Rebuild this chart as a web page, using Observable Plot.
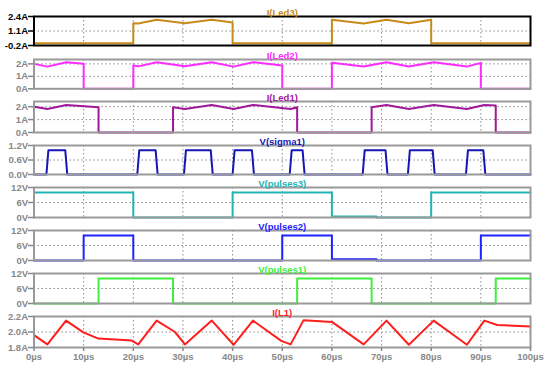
<!DOCTYPE html>
<html><head><meta charset="utf-8">
<script src="https://cdn.jsdelivr.net/npm/d3@7"></script>
<script src="https://cdn.jsdelivr.net/npm/@observablehq/plot@0.6"></script>
<style>
html,body{margin:0;padding:0;background:#fff;}
#chart{position:relative;width:550px;height:372px;overflow:hidden;font-family:"Liberation Sans",Arial,sans-serif;}
#chart svg{position:absolute;left:0;background:transparent;}
</style></head><body><div id="chart"></div>
<script>
// time axis (µs)
const xTicks = [0,10,20,30,40,50,60,70,80,90,100];
const xGrid = [10,20,30,40,50,60,70,80,90];

// I(Led3)
const led3T = [0,0,20,20,21,24.7,30.4,35.8,40,40,60,60,66.4,71.0,75.5,80,80,100];
const led3I = [2.2,0,0,1.8,1.78,2.1,1.79,2.1,1.86,0,0,2.1,1.77,2.1,1.79,2.1,0,0];
// I(Led2)
const led2T = [0,2.7,6.5,10,10,20,20,21,24.7,30.4,35.8,40.2,44.1,50,50,60,60,66.4,71.0,75.5,80.5,87.2,90,90,100];
const led2I = [2.0,1.78,2.13,2.0,0,0,1.86,1.8,2.13,1.8,2.13,1.78,2.13,1.86,0,0,2.08,1.78,2.13,1.78,2.13,1.78,2.08,0,0];
// I(Led1)
const led1T = [0,2.7,6.5,13,13,28,28,30.4,35.8,40.2,44.1,49.8,51.7,53,53,68,68,71.0,75.5,80.5,87.2,90.7,93,93,100];
const led1I = [2.0,1.82,2.13,1.95,0,0,1.95,1.82,2.13,1.82,2.13,1.9,1.82,1.95,0,0,1.95,2.13,1.82,2.13,1.82,2.13,2.1,0,0];
// V(sigma1)
const sigT = [0,2.5,2.9,6.3,6.7,20.8,21.2,24.5,24.9,30.2,30.6,35.6,36.0,40.0,40.4,43.9,44.3,51.5,51.9,54.1,54.5,66.2,66.6,70.8,71.2,75.3,75.7,80.3,80.7,87.0,87.4,90.5,90.9,100];
const sigV = [0,0,1,1,0,0,1,1,0,0,1,1,0,0,1,1,0,0,1,1,0,0,1,1,0,0,1,1,0,0,1,1,0,0];
// V(pulses3)
const p3T = [0,0,20,20,40,40,60,60,69,69,80,80,100];
const p3V = [0,10,10,0,0,10,10,0.4,0.4,0,0,10,10];
// V(pulses2)
const p2T = [0,10,10,20,20,50,50,60,60,69,69,90,90,100];
const p2V = [0,0,10,10,0,0,10,10,0.5,0.5,0,0,10,10];
// V(pulses1)
const p1T = [0,13,13,28,28,53,53,68,68,93,93,100];
const p1V = [0,0,10,10,0,0,10,10,0,0,10,10];
// I(L1)
const l1T = [0,2.7,6.45,9.95,12.97,19.7,21.0,24.7,28.4,30.4,35.8,40.2,44.1,49.8,51.7,54.3,60.0,66.4,71.0,75.5,80.5,87.2,90.7,93.3,100];
const l1I = [1.96,1.84,2.147,1.995,1.915,1.89,1.84,2.147,2.0,1.84,2.147,1.835,2.147,1.885,1.84,2.153,2.13,1.84,2.147,1.835,2.147,1.835,2.147,2.09,2.07];

const fmtA0 = d => d + "A";
const fmtA1 = d => d.toFixed(1) + "A";
const fmtV0 = d => d + "V";
const fmtV1 = d => d.toFixed(1) + "V";

const panels = [
  {name:"I(Led3)", t:led3T, v:led3I, domain:[-0.2,2.4], ticks:[-0.2,1.1,2.4], grid:[1.1], fmt:fmtA1, color:"#c88a18", frame:"#000", axis:"#000", top:16, bottom:45},
  {name:"I(Led2)", t:led2T, v:led2I, domain:[0,2.35], ticks:[0,1,2], grid:[1,2], fmt:fmtA0, color:"#ff2cff", frame:"#9a9a9a", axis:"#888", top:59, bottom:88.3},
  {name:"I(Led1)", t:led1T, v:led1I, domain:[0,2.4], ticks:[0,1,2], grid:[1,2], fmt:fmtA0, color:"#a0189c", frame:"#9a9a9a", axis:"#888", top:101, bottom:132},
  {name:"V(sigma1)", t:sigT, v:sigV, domain:[0,1.2], ticks:[0,0.6,1.2], grid:[0.6], fmt:fmtV1, color:"#1616b4", frame:"#9a9a9a", axis:"#888", top:145, bottom:174},
  {name:"V(pulses3)", t:p3T, v:p3V, domain:[0,12], ticks:[0,6,12], grid:[6], fmt:fmtV0, color:"#20b4b4", frame:"#9a9a9a", axis:"#888", top:187, bottom:217},
  {name:"V(pulses2)", t:p2T, v:p2V, domain:[0,12], ticks:[0,6,12], grid:[6], fmt:fmtV0, color:"#1e22ff", frame:"#9a9a9a", axis:"#888", top:230, bottom:260},
  {name:"V(pulses1)", t:p1T, v:p1V, domain:[0,12], ticks:[0,6,12], grid:[6], fmt:fmtV0, color:"#3cf03c", frame:"#9a9a9a", axis:"#888", top:273, bottom:303},
  {name:"I(L1)", t:l1T, v:l1I, domain:[1.8,2.2], ticks:[1.8,2.0,2.2], grid:[2.0], fmt:fmtA1, color:"#ff1e1e", frame:"#9a9a9a", axis:"#888", top:316, bottom:347}
];

const root = document.getElementById("chart");
const gridStyle = {stroke:"#8c8c8c", strokeOpacity:1, strokeWidth:1, strokeDasharray:"1.5,2.5"};
const fontFamily = "'Liberation Sans', Arial, sans-serif";

panels.forEach((p, i) => {
  const last = i === panels.length - 1;
  const mt = 14, mb = last ? 26 : 4;
  const h = p.bottom - p.top;
  const data = p.t.map((t, k) => ({t, v: p.v[k]}));
  const marks = [
    Plot.gridX(xGrid, gridStyle),
    Plot.gridY(p.grid, gridStyle),
    Plot.line(data, {x:"t", y:"v", stroke:p.color, strokeWidth:2}),
    Plot.frame({stroke:p.frame, strokeWidth:2}),
    Plot.axisY(p.ticks, {label:null, tickSize:5.5, tickPadding:0.5, tickFormat:p.fmt, color:p.axis, strokeWidth:1.5, fontSize:9.5, fontWeight:"bold"}),
    Plot.text([p.name], {text:d => d, frameAnchor:"top", dy:-7, fill:p.color, fontSize:9.5, fontWeight:"bold"})
  ];
  if (last) {
    marks.push(Plot.axisX(xTicks, {label:null, tickSize:4, tickPadding:2, tickFormat:d => d + "µs", color:"#888", strokeWidth:1.5, fontSize:9.5, fontWeight:"bold"}));
  }
  const svg = Plot.plot({
    width:550, height:h + mt + mb,
    marginTop:mt, marginBottom:mb, marginLeft:33.5, marginRight:20,
    x:{domain:[0,100], axis:null},
    y:{domain:p.domain, axis:null},
    style:{fontFamily, background:"transparent", overflow:"visible"},
    marks
  });
  svg.style.top = (p.top - mt) + "px";
  root.appendChild(svg);
});
</script></body></html>
